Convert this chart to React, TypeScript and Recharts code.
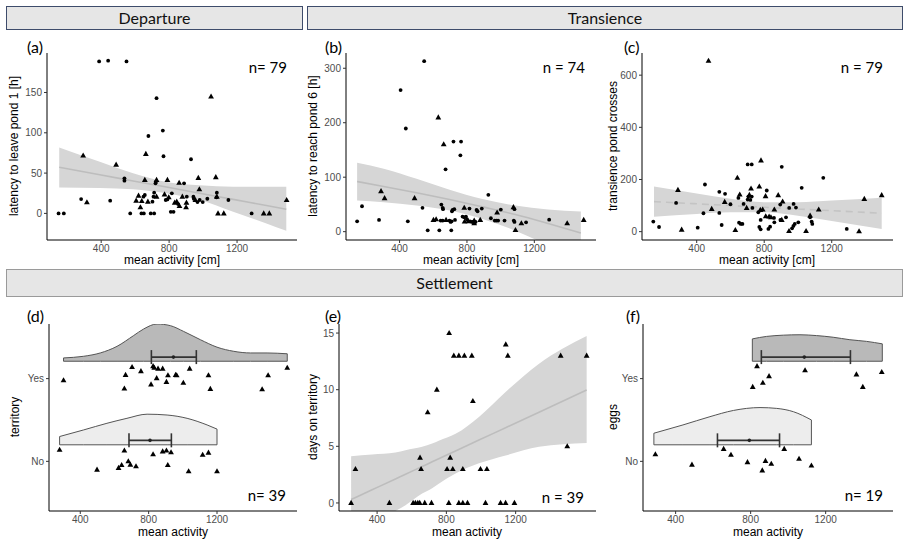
import React from 'react'
import {
  ComposedChart,
  Scatter,
  Area,
  Line,
  XAxis,
  YAxis,
  ErrorBar,
  ReferenceLine
} from 'recharts'

// shared
const activityTicks = [400, 800, 1200]
const yesNo = ['No', 'Yes']

// (a) latency to leave pond 1 [h]
const aCircles = [
  [388, 188.6], [441, 189.5], [549, 188.6], [726, 143], [763, 102.8], [678, 96], [767, 70.9], [929, 67.2],
  [537, 43.5], [537, 40.6], [722, 39], [720, 37.3], [888, 37.3], [1081, 25.7], [1149, 16.6], [282, 17.8],
  [453, 15.8], [149, 0], [180, 0], [571, 0], [649, 20.7], [657, 22.8], [637, 0], [651, 0], [702, 14.5],
  [708, 20.7], [712, 25.7], [692, 0], [712, 0], [780, 16.6], [790, 17.4], [816, 24.9], [810, 2], [826, 2],
  [853, 11.6], [904, 20.7], [943, 20.7], [945, 18.2], [967, 14.1], [980, 16.6], [998, 14.1], [1025, 18.2],
  [1079, 19.9], [1286, 0]
]
const aTriangles = [
  [1047, 145], [663, 73.8], [294, 71.7], [488, 60.5], [657, 41.5], [726, 41.5], [790, 41.5], [859, 38],
  [972, 44], [1075, 45], [978, 29.9], [1081, 20.7], [1492, 16.6], [316, 13.7], [606, 15.8], [620, 22],
  [639, 15.3], [631, 7.5], [675, 14.5], [726, 20.7], [773, 23.6], [798, 19.9], [833, 13.3], [845, 14.5],
  [861, 9.1], [878, 20.7], [902, 13.3], [900, 7.5], [955, 16.6], [1088, 0], [1122, 0], [1357, 0], [1390, 0]
]
const aFitX = [153, 392, 588, 784, 980, 1177, 1373, 1490]
const aFitLo = [32, 31.5, 30, 25, 16.6, 2, -12.4, -21.6]
const aFitHi = [81.7, 64, 49.7, 39, 34.8, 33, 33, 33]
const aFit = [57.2, 47.9, 40.3, 32.7, 25, 17.4, 9.7, 5.2]

// (b) latency to reach pond 6 [h]
const bCircles = [
  [546, 313], [406, 260], [437, 189.4], [720, 165.4], [765, 165.4], [761, 140.2], [673, 114.4], [927, 67.7],
  [177, 46.7], [148, 19], [278, 21.5], [449, 19], [536, 43.7], [648, 49.8], [656, 43.7], [658, 41.2],
  [644, 20.3], [656, 20.3], [696, 20.3], [703, 17.8], [711, 37.5], [715, 40], [725, 41.2], [729, 21.5],
  [709, 19], [567, 2.5], [636, 2.5], [707, 2.5], [815, 42.4], [774, 27.7], [784, 26.4], [794, 27.7],
  [800, 22.8], [818, 19], [830, 17.8], [837, 17.8], [857, 40], [863, 37.5], [888, 42.4], [851, 17.8],
  [942, 24.6], [965, 20.3], [975, 20.3], [985, 20.3], [1001, 40.6], [1023, 20.3], [1082, 41.2], [1078, 20.3],
  [1082, 17.8], [1151, 17.2], [1288, 22.1]
]
const bTriangles = [
  [630, 209.7], [662, 160.5], [290, 74.4], [311, 61.5], [489, 61.5], [601, 21.5], [617, 22.8], [676, 21.5],
  [784, 43.7], [786, 18.5], [808, 19], [843, 20.3], [879, 21.5], [843, 15.4], [979, 35], [1076, 44.9],
  [1088, 3], [1123, 15.4], [1395, 15.4], [1493, 21.5]
]
const bFitX = [148, 306, 501, 697, 892, 1087, 1282, 1476]
const bFitLo = [57, 54, 48, 38.7, 23.4, 1.8, -25, -50]
const bFitHi = [126.7, 115.6, 97, 77, 60, 48, 40.6, 37]
const bFit = [92, 83, 71.5, 59, 45.5, 31.5, 15, -2.5]

// (c) transience pond crosses
const cCircles = [
  [702, 257.7], [726, 257.7], [904, 248.7], [1150, 206.4], [449, 180.8], [1022, 168], [815, 157.7],
  [534, 152.6], [568, 144.9], [647, 129.5], [706, 134.6], [726, 134.6], [702, 123], [718, 121.8],
  [678, 106.4], [600, 105], [278, 110.3], [895, 103.8], [974, 106.4], [988, 92.3], [948, 91], [730, 91],
  [534, 71.8], [440, 70.5], [765, 74.4], [779, 44.9], [858, 52.6], [860, 35.9], [929, 55.1], [896, 44.9],
  [1072, 55.1], [1081, 38.5], [1085, 29.5], [1002, 35.9], [981, 29.5], [973, 21.8], [651, 34.6], [661, 29.5],
  [671, 29.5], [548, 25.6], [143, 38.5], [177, 17.9], [406, 15.4], [771, 17.9], [779, 9], [825, 10.3],
  [835, 19.2], [965, 12.8], [1289, 10.3]
]
const cTriangles = [
  [470, 655], [641, 206.4], [289, 160], [722, 165.4], [771, 173], [781, 273], [655, 142.3], [712, 141],
  [808, 135.9], [883, 139.7], [566, 114], [909, 115.4], [791, 84.6], [696, 91], [860, 84.6], [489, 87.2],
  [777, 83.3], [1123, 84.6], [1393, 125.6], [1496, 139.7], [809, 59], [829, 57.7], [840, 55.1], [1072, 61.5],
  [904, 44.9], [311, 7.7], [629, 6.4], [947, 2.6], [1048, 2.6], [1362, 1.3]
]
const cFitX = [147, 400, 600, 800, 1000, 1200, 1496]
const cFitLo = [57, 68, 74, 74, 61, 41, 10]
const cFitHi = [173, 146, 126, 113, 113, 119, 130]
const cFit = [115, 106.7, 100.1, 93.5, 86.9, 80.4, 70.6]

// (d) territory
const dYes = [
  [302, 1.98], [658, 1.88], [665, 2.045], [703, 2.14], [755, 2.09], [814, 1.93], [826, 2.15], [833, 2.13],
  [847, 2.005], [855, 2.12], [882, 2.12], [904, 1.96], [913, 2.04], [958, 2.045], [964, 2.04], [1003, 1.95],
  [1040, 2.12], [1150, 2.04], [1161, 1.875], [1464, 1.87], [1499, 2.04], [1611, 2.13]
]
const dNo = [
  [279, 1.14], [498, 0.9], [658, 1.13], [681, 1.0], [693, 0.96], [624, 0.92], [642, 0.955], [726, 0.94],
  [826, 1.085], [882, 1.12], [904, 1.13], [931, 1.11], [912, 0.955], [1034, 0.88], [1116, 1.08], [1150, 1.105],
  [1200, 0.88]
]
const dYesDensX = [302, 420, 517, 615, 712, 771, 849, 927, 1005, 1103, 1200, 1298, 1396, 1493, 1611]
const dYesDens = [0.04, 0.06, 0.1, 0.18, 0.31, 0.39, 0.45, 0.43, 0.36, 0.26, 0.17, 0.12, 0.1, 0.1, 0.09]
const dNoDensX = [279, 420, 556, 673, 791, 908, 1025, 1142, 1200]
const dNoDens = [0.1, 0.18, 0.26, 0.32, 0.37, 0.36, 0.32, 0.24, 0.19]
const dMeans = [808, 945] // No, Yes
const dLow = [685, 816]
const dHigh = [933, 1079]

// (e) days on territory
const eTriangles = [
  [250, 0], [275, 3], [471, 0], [608, 0], [621, 0], [635, 0], [646, 0], [675, 0], [714, 0], [648, 4],
  [654, 3], [692, 8], [745, 10], [816, 15], [804, 3], [837, 3], [822, 4], [814, 0], [843, 13], [872, 13],
  [904, 13], [947, 13], [872, 0], [895, 0], [922, 0], [895, 3], [953, 9], [997, 3], [1034, 3], [1026, 0],
  [1113, 0], [1142, 0], [1143, 14], [1155, 13], [1193, 0], [1460, 13], [1498, 5], [1610, 13]
]
const eFitX = [250, 371, 506, 564, 660, 718, 756, 853, 988, 1142, 1335, 1610]
const eFitLo = [-3.5, -2.1, -0.71, -0.2, 0.83, 1.3, 1.7, 2.6, 3.5, 4.2, 4.96, 5.3]
const eFitHi = [4.13, 4.28, 4.45, 4.66, 4.96, 5.25, 5.5, 6.1, 7.6, 9.8, 12.3, 14.75]
const eFit = [0.3, 1.16, 2.12, 2.53, 3.22, 3.63, 3.9, 4.59, 5.55, 6.64, 8.01, 9.97]

// (f) eggs
const fYes = [[834, 2.15], [1090, 2.1], [898, 2.03], [865, 1.95], [811, 1.9], [1364, 2.05], [1398, 1.9], [1499, 2.08]]
const fNo = [
  [292, 1.085], [487, 0.96], [656, 1.15], [695, 1.08], [783, 0.99], [879, 1.005], [910, 0.97], [862, 0.89],
  [979, 1.15], [1058, 1.03], [1124, 0.95]
]
const fYesDensX = [809, 885, 974, 1063, 1151, 1240, 1329, 1418, 1502]
const fYesDens = [0.27, 0.3, 0.315, 0.32, 0.31, 0.29, 0.26, 0.24, 0.21]
const fNoDensX = [284, 439, 583, 708, 850, 939, 1028, 1124]
const fNoDens = [0.14, 0.24, 0.34, 0.415, 0.45, 0.44, 0.4, 0.3]
const fMeans = [793, 1086]
const fLow = [623, 857]
const fHigh = [954, 1332]

// cloud baselines / error bar heights (No, Yes)
const cloudBase = [1.2, 2.21]
const barLevel = [1.254, 2.26]

const pts = (arr: number[][]) => arr.map(([x, y]) => ({ x, y }))
const band = (xs: number[], lo: number[], hi: number[], fit: number[]) =>
  xs.map((x, i) => ({ x, band: [lo[i], hi[i]], fit: fit[i] }))
const dens = (xs: number[], h: number[], base: number) =>
  xs.map((x, i) => ({ x, d: [base, base + h[i]] }))

const SANS = '"Liberation Sans", Arial, sans-serif'
const CAL = 'Lato, "Open Sans", sans-serif'
const tickStyle = { fontSize: 10, fill: '#4d4d4d', fontFamily: SANS }

const Triangle = (p: any) => {
  const { cx, cy } = p
  if (cx == null || cy == null) return <g />
  return <path d={`M${cx},${cy - 3.1}L${cx + 2.9},${cy + 2}L${cx - 2.9},${cy + 2}Z`} fill="#000" />
}
const Dot = (p: any) => {
  const { cx, cy } = p
  if (cx == null || cy == null) return <g />
  return <circle cx={cx} cy={cy} r={1.9} fill="#000" />
}
const MeanDot = (p: any) => {
  const { cx, cy } = p
  if (cx == null || cy == null) return <g />
  return <circle cx={cx} cy={cy} r={1.8} fill="#222" />
}

type Box = { l: number; r: number; t: number; b: number }

function Panel({ box, xDomain, yDomain, yTicks, yFmt, children }: any) {
  const yW = 40
  const xH = 22
  const mt = 8
  const mr = 6
  const b: Box = box
  return (
    <div style={{ position: 'absolute', left: b.l - yW, top: b.t - mt }}>
      <ComposedChart
        width={b.r - b.l + yW + mr}
        height={b.b - b.t + mt + xH}
        margin={{ top: mt, right: mr, bottom: 0, left: 0 }}
      >
        <XAxis
          type="number"
          dataKey="x"
          domain={xDomain}
          ticks={activityTicks}
          allowDataOverflow
          height={xH}
          tick={tickStyle}
          tickSize={3}
          tickMargin={2}
          axisLine={{ stroke: '#000', strokeWidth: 1 }}
          tickLine={{ stroke: '#333' }}
        />
        <YAxis
          type="number"
          dataKey="y"
          domain={yDomain}
          ticks={yTicks}
          tickFormatter={yFmt}
          allowDataOverflow
          width={yW}
          tick={tickStyle}
          tickSize={3}
          tickMargin={2}
          axisLine={{ stroke: '#000', strokeWidth: 1 }}
          tickLine={{ stroke: '#333' }}
        />
        {children}
      </ComposedChart>
    </div>
  )
}

const fitBand = (data: any[], dashed = false) => [
  <Area key="band" data={data} dataKey="band" type="monotone" fill="#d6d6d6" fillOpacity={1} stroke="none" isAnimationActive={false} />,
  <Line key="fit" data={data} dataKey="fit" type="monotone" stroke={dashed ? '#c4c4c4' : '#bdbdbd'} strokeWidth={1.6}
    strokeDasharray={dashed ? '7 5' : undefined} dot={false} isAnimationActive={false} />
]

const cloud = (key: string, xs: number[], h: number[], base: number, fill: string) => {
  const data = dens(xs, h, base)
  const first = data[0]
  const last = data[data.length - 1]
  return [
    <Area key={key} data={data} dataKey="d" type="monotone" fill={fill} fillOpacity={1} stroke="#555" strokeWidth={1} isAnimationActive={false} />,
    <ReferenceLine key={key + 'l'} segment={[{ x: first.x, y: first.d[0] }, { x: first.x, y: first.d[1] }]} stroke="#555" strokeWidth={1} />,
    <ReferenceLine key={key + 'r'} segment={[{ x: last.x, y: last.d[0] }, { x: last.x, y: last.d[1] }]} stroke="#555" strokeWidth={1} />
  ]
}

const meanBar = (key: string, means: number[], low: number[], high: number[]) => {
  const data = means.map((m, i) => ({ x: m, y: barLevel[i], err: [m - low[i], high[i] - m] }))
  return (
    <Scatter key={key} data={data} shape={MeanDot} isAnimationActive={false}>
      <ErrorBar dataKey="err" direction="x" width={7} stroke="#333" strokeWidth={1.6} />
    </Scatter>
  )
}

const yCat = (v: number) => yesNo[v - 1]

const strip = (text: string, l: number, t: number, w: number, h: number, border: string) => (
  <div
    style={{
      position: 'absolute', left: l, top: t, width: w, height: h, boxSizing: 'border-box',
      border: `1px solid ${border}`, background: '#e6e6e6', textAlign: 'center',
      lineHeight: `${h - 2}px`, fontSize: 16, fontFamily: CAL, color: '#111'
    }}
  >
    {text}
  </div>
)

const yTitle = (text: string, cx: number, cy: number) => (
  <div
    style={{
      position: 'absolute', left: cx - 110, top: cy - 8, width: 220, height: 16, lineHeight: '16px',
      textAlign: 'center', transform: 'rotate(-90deg)', fontSize: 12, fontFamily: SANS, color: '#000'
    }}
  >
    {text}
  </div>
)
const xTitle = (text: string, cx: number, cy: number) => (
  <div
    style={{
      position: 'absolute', left: cx - 100, top: cy - 8, width: 200, height: 16, lineHeight: '16px',
      textAlign: 'center', fontSize: 12, fontFamily: SANS, color: '#000'
    }}
  >
    {text}
  </div>
)
const tag = (text: string, l: number, cy: number) => (
  <div style={{ position: 'absolute', left: l, top: cy - 10, height: 20, lineHeight: '20px', fontSize: 16, fontFamily: CAL, color: '#000' }}>
    {text}
  </div>
)
const nLabel = (text: string, r: number, cy: number) => (
  <div
    style={{
      position: 'absolute', left: r - 80, top: cy - 10, width: 80, height: 20, lineHeight: '20px',
      textAlign: 'right', fontSize: 15, fontFamily: CAL, color: '#000'
    }}
  >
    {text}
  </div>
)

const boxA = { l: 47, r: 297, t: 53, b: 240 }
const boxB = { l: 346, r: 596, t: 53, b: 240 }
const boxC = { l: 642, r: 893, t: 53, b: 240 }
const boxD = { l: 49, r: 297, t: 324, b: 511 }
const boxE = { l: 339, r: 596, t: 324, b: 511 }
const boxF = { l: 643, r: 893, t: 324, b: 511 }

export default function App() {
  return (
    <div style={{ position: 'absolute', left: 0, top: 0, width: 906, height: 542, background: '#fff', overflow: 'hidden' }}>
      {strip('Departure', 6, 6, 297, 24, '#3e4c6b')}
      {strip('Transience', 307, 6, 596, 24, '#3e4c6b')}
      {strip('Settlement', 6, 269, 897, 28, '#9a9a9a')}

      <Panel box={boxA} xDomain={[81, 1553]} yDomain={[-33, 199]} yTicks={[0, 50, 100, 150]}>
        {fitBand(band(aFitX, aFitLo, aFitHi, aFit))}
        <Scatter data={pts(aCircles)} shape={Dot} isAnimationActive={false} />
        <Scatter data={pts(aTriangles)} shape={Triangle} isAnimationActive={false} />
      </Panel>

      <Panel box={boxB} xDomain={[82, 1566]} yDomain={[-15.3, 328]} yTicks={[0, 100, 200, 300]}>
        {fitBand(band(bFitX, bFitLo, bFitHi, bFit))}
        <Scatter data={pts(bCircles)} shape={Dot} isAnimationActive={false} />
        <Scatter data={pts(bTriangles)} shape={Triangle} isAnimationActive={false} />
      </Panel>

      <Panel box={boxC} xDomain={[76, 1563]} yDomain={[-32, 685]} yTicks={[0, 200, 400, 600]}>
        {fitBand(band(cFitX, cFitLo, cFitHi, cFit), true)}
        <Scatter data={pts(cCircles)} shape={Dot} isAnimationActive={false} />
        <Scatter data={pts(cTriangles)} shape={Triangle} isAnimationActive={false} />
      </Panel>

      <Panel box={boxD} xDomain={[217, 1668]} yDomain={[0.4, 2.66]} yTicks={[1, 2]} yFmt={yCat}>
        {cloud('dy', dYesDensX, dYesDens, cloudBase[1], '#b9b9b9')}
        {cloud('dn', dNoDensX, dNoDens, cloudBase[0], '#ededed')}
        {meanBar('dm', dMeans, dLow, dHigh)}
        <Scatter data={pts(dYes)} shape={Triangle} isAnimationActive={false} />
        <Scatter data={pts(dNo)} shape={Triangle} isAnimationActive={false} />
      </Panel>

      <Panel box={boxE} xDomain={[180, 1664]} yDomain={[-0.71, 15.8]} yTicks={[0, 5, 10, 15]}>
        {fitBand(band(eFitX, eFitLo, eFitHi, eFit))}
        <Scatter data={pts(eTriangles)} shape={Triangle} isAnimationActive={false} />
      </Panel>

      <Panel box={boxF} xDomain={[226, 1559]} yDomain={[0.4, 2.66]} yTicks={[1, 2]} yFmt={yCat}>
        {cloud('fy', fYesDensX, fYesDens, cloudBase[1], '#b9b9b9')}
        {cloud('fn', fNoDensX, fNoDens, cloudBase[0], '#ededed')}
        {meanBar('fm', fMeans, fLow, fHigh)}
        <Scatter data={pts(fYes)} shape={Triangle} isAnimationActive={false} />
        <Scatter data={pts(fNo)} shape={Triangle} isAnimationActive={false} />
      </Panel>

      {yTitle('latency to leave pond 1 [h]', 14, 146)}
      {yTitle('latency to reach pond 6 [h]', 313, 146)}
      {yTitle('transience pond crosses', 613, 146)}
      {yTitle('territory', 15, 417)}
      {yTitle('days on territory', 313, 417)}
      {yTitle('eggs', 613, 417)}

      {xTitle('mean activity [cm]', 172, 260)}
      {xTitle('mean activity [cm]', 471, 260)}
      {xTitle('mean activity [cm]', 767, 260)}
      {xTitle('mean activity', 173, 532)}
      {xTitle('mean activity', 467, 532)}
      {xTitle('mean activity', 768, 532)}

      {tag('(a)', 27, 47)}
      {tag('(b)', 325, 47)}
      {tag('(c)', 624, 47)}
      {tag('(d)', 27, 316)}
      {tag('(e)', 325, 316)}
      {tag('(f)', 626, 316)}

      {nLabel('n= 79', 287, 67)}
      {nLabel('n = 74', 585, 67)}
      {nLabel('n = 79', 883, 67)}
      {nLabel('n= 39', 286, 495)}
      {nLabel('n = 39', 584, 497)}
      {nLabel('n= 19', 883, 495)}
    </div>
  )
}
